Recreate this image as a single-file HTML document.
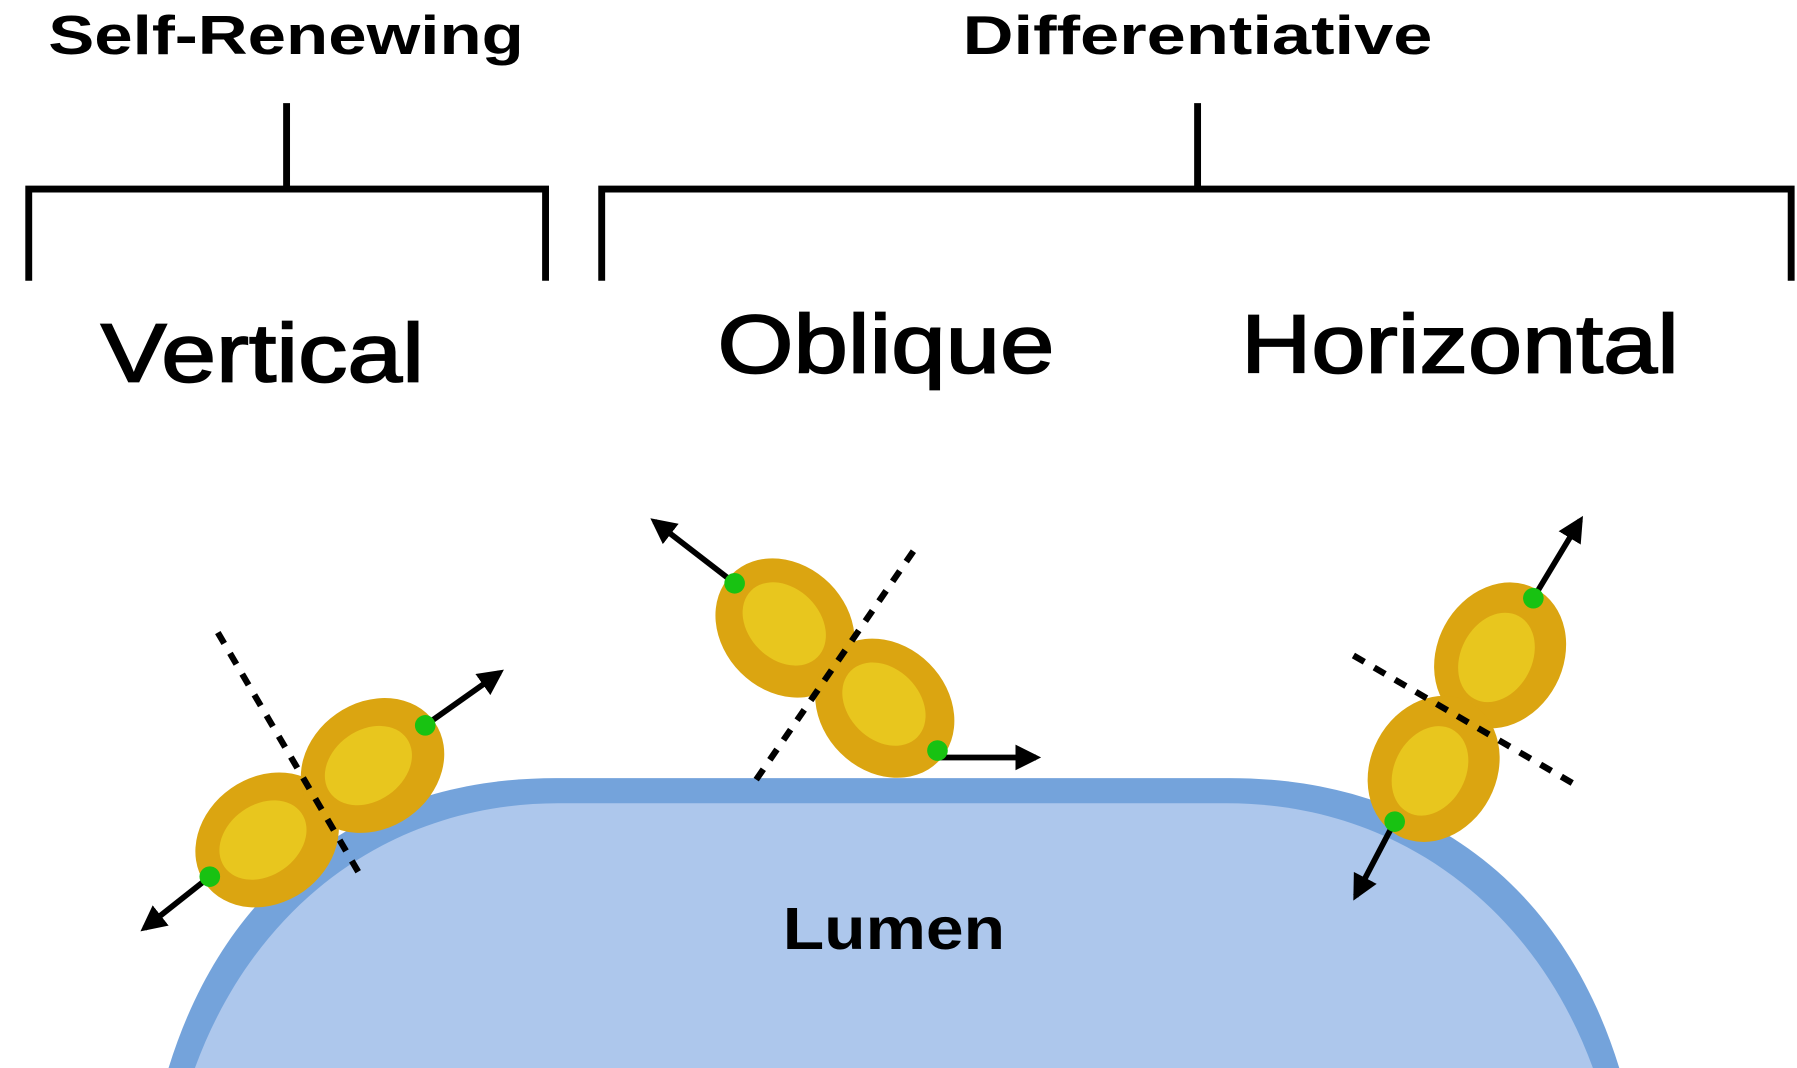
<!DOCTYPE html>
<html><head><meta charset="utf-8"><style>html,body{margin:0;padding:0;background:#fff}svg{display:block}</style></head>
<body>
<svg width="1797" height="1068" viewBox="0 0 1568 932" xmlns="http://www.w3.org/2000/svg">
<defs>
<marker id="ah" viewBox="0 0 10 10" refX="8" refY="5" markerWidth="4.5" markerHeight="4.5" orient="auto" markerUnits="strokeWidth">
<path d="M0,0 L10,5 L0,10 z" fill="#000"/></marker>
<g id="cell">
<ellipse cx="0" cy="0" rx="66" ry="55" fill="#dba511"/>
<ellipse cx="-3" cy="-2" rx="41" ry="31" fill="#e8c61e"/>
</g>
</defs>
<g font-family="'Liberation Sans', sans-serif" fill="#000">
<text x="42" y="47" font-size="48" font-weight="bold" textLength="415" lengthAdjust="spacingAndGlyphs">Self-Renewing</text>
<text x="840" y="47" font-size="48" font-weight="bold" textLength="410" lengthAdjust="spacingAndGlyphs">Differentiative</text>
<g stroke="#000" stroke-width="1.5">
<text x="88" y="333" font-size="72" textLength="282" lengthAdjust="spacingAndGlyphs">Vertical</text>
<text x="626" y="325" font-size="72" textLength="294" lengthAdjust="spacingAndGlyphs">Oblique</text>
<text x="1083" y="325" font-size="72" textLength="382" lengthAdjust="spacingAndGlyphs">Horizontal</text>
</g>
</g>
<g stroke="#000" stroke-width="6" fill="none">
<path d="M250,90 V165 M25,245 V165 H476 V245"/>
<path d="M1045,90 V165 M525,245 V165 H1563 V245"/>
</g>
<path d="M147,932 C200,760 330,679 485,679 H1073 C1230,679 1360,760 1413,932 Z" fill="#74a3db"/>
<path d="M170,932 C222,790 340,701 487,701 H1071 C1218,701 1338,790 1390,932 Z" fill="#adc7ec"/>
<text x="683" y="828" font-family="'Liberation Sans', sans-serif" font-size="52" font-weight="bold" textLength="194" lengthAdjust="spacingAndGlyphs">Lumen</text>
<!-- vertical -->
<use href="#cell" transform="translate(233,733) rotate(-35)"/>
<use href="#cell" transform="translate(325,668) rotate(-35)"/>
<g stroke="#000" stroke-width="5" fill="none">
<line x1="371" y1="633" x2="436" y2="587" marker-end="url(#ah)"/>
<line x1="183" y1="765" x2="126" y2="810" marker-end="url(#ah)"/>
<line x1="190" y1="552" x2="315" y2="765" stroke-dasharray="11,10" stroke-width="5.5"/>
</g>
<circle cx="371" cy="633" r="9" fill="#18c212"/>
<circle cx="183" cy="765" r="9" fill="#18c212"/>
<!-- oblique -->
<use href="#cell" transform="translate(685,548) rotate(45)"/>
<use href="#cell" transform="translate(772,618) rotate(45)"/>
<g stroke="#000" stroke-width="5" fill="none">
<line x1="641" y1="509" x2="571" y2="455" marker-end="url(#ah)"/>
<line x1="818" y1="661" x2="904" y2="661" marker-end="url(#ah)"/>
<line x1="797" y1="481" x2="658" y2="683" stroke-dasharray="11,10" stroke-width="5.5"/>
</g>
<circle cx="641" cy="509" r="9" fill="#18c212"/>
<circle cx="818" cy="655" r="9" fill="#18c212"/>
<!-- horizontal -->
<use href="#cell" transform="translate(1309,572) rotate(-62)"/>
<use href="#cell" transform="translate(1251,671) rotate(-62)"/>
<g stroke="#000" stroke-width="5" fill="none">
<line x1="1338" y1="522" x2="1379" y2="454" marker-end="url(#ah)"/>
<line x1="1217" y1="717" x2="1183" y2="782" marker-end="url(#ah)"/>
<line x1="1181" y1="572" x2="1380" y2="688" stroke-dasharray="11,10" stroke-width="5.5"/>
</g>
<circle cx="1338" cy="522" r="9" fill="#18c212"/>
<circle cx="1217" cy="717" r="9" fill="#18c212"/>
</svg>
</body></html>
